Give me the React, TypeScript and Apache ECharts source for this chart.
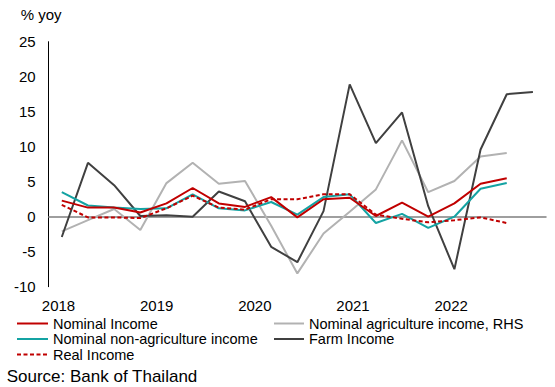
import React, { useEffect, useRef } from "react";
import * as echarts from "echarts";

// Quarterly periods, 2018Q1 – 2022Q3
const quarters = [
  "2018Q1", "2018Q2", "2018Q3", "2018Q4",
  "2019Q1", "2019Q2", "2019Q3", "2019Q4",
  "2020Q1", "2020Q2", "2020Q3", "2020Q4",
  "2021Q1", "2021Q2", "2021Q3", "2021Q4",
  "2022Q1", "2022Q2", "2022Q3",
];

// Year labels under the plot
const yearTicks = [2018, 2019, 2020, 2021, 2022];

// Growth rates, % yoy
const nominalIncome = [2.3, 1.3, 1.3, 0.6, 1.9, 4.1, 1.9, 1.4, 2.8, -0.1, 2.5, 2.7, 0.1, 2.0, 0.0, 1.9, 4.7, 5.5];
const nominalAgriIncome = [-2.1, -0.5, 1.1, -1.9, 4.8, 7.7, 4.7, 5.1, -1.3, -8.1, -2.4, 0.7, 3.9, 10.9, 3.5, 5.1, 8.6, 9.1];
const nominalNonAgriIncome = [3.5, 1.6, 1.3, 1.1, 1.2, 3.2, 1.2, 0.9, 2.1, 0.3, 2.8, 3.2, -0.9, 0.4, -1.6, 0.0, 4.0, 4.8];
const farmIncome = [-2.9, 7.7, 4.5, 0.1, 0.2, 0.0, 3.6, 2.2, -4.3, -6.5, 0.8, 18.9, 10.5, 14.9, 1.5, -7.5, 9.6, 17.5, 17.8];
const realIncome = [1.7, -0.1, -0.1, -0.2, 1.2, 3.0, 1.3, 1.0, 2.5, 2.5, 3.2, 3.2, 0.3, -0.3, -0.8, -0.5, -0.1, -0.9];

const FONT = "'Liberation Sans', Arial, sans-serif";

export default function App() {
  const ref = useRef<HTMLDivElement>(null);

  useEffect(() => {
    if (!ref.current) return;
    const chart = echarts.init(ref.current, undefined, { renderer: "svg" });

    const lineSeries = (name: string, data: number[], color: string, dashed = false) => ({
      name,
      type: "line",
      data,
      xAxisIndex: 0,
      yAxisIndex: 0,
      symbol: "none",
      showSymbol: false,
      lineStyle: { color, width: 2, type: dashed ? ([4, 2.5] as any) : "solid" },
      itemStyle: { color },
      z: 3,
    });

    const legendBase = {
      orient: "vertical",
      top: 316,
      itemHeight: 15,
      itemGap: 0.5,
      padding: 0,
      itemStyle: { opacity: 0 },
      textStyle: { fontSize: 14.5, color: "#000", fontFamily: FONT },
    };

    chart.setOption({
      animation: false,
      textStyle: { fontFamily: FONT },
      grid: { left: 48.7, right: 9, top: 41.7, bottom: 100.3, containLabel: false },
      xAxis: [
        {
          type: "category",
          data: quarters,
          boundaryGap: true,
          axisLine: { show: true, onZero: true, lineStyle: { color: "#7f7f7f", width: 1.5 } },
          axisTick: { show: false },
          axisLabel: { show: false },
          splitLine: { show: false },
        },
        {
          type: "value",
          position: "bottom",
          min: 2017.9,
          max: 2022.966,
          interval: 0.1,
          axisLine: { show: false, onZero: false },
          axisTick: { show: false },
          splitLine: { show: false },
          axisLabel: {
            show: true,
            margin: 11,
            fontSize: 15,
            color: "#000",
            fontFamily: FONT,
            formatter: (v: number) => {
              const r = Math.round(v);
              return Math.abs(v - r) < 1e-6 && yearTicks.includes(r) ? String(r) : "";
            },
          },
        },
      ],
      yAxis: {
        type: "value",
        min: -10,
        max: 25,
        interval: 5,
        axisLine: { show: true, lineStyle: { color: "#000", width: 1 } },
        axisTick: { show: false },
        splitLine: { show: false },
        axisLabel: { margin: 13, fontSize: 15, color: "#000", fontFamily: FONT },
      },
      legend: [
        {
          ...legendBase,
          left: 16,
          itemWidth: 31,
          data: ["Nominal Income", "Nominal non-agriculture income", "Real Income"],
        },
        {
          ...legendBase,
          left: 273,
          itemWidth: 30,
          data: ["Nominal agriculture income, RHS", "Farm Income"],
        },
      ],
      graphic: [
        {
          type: "text",
          left: 20.7,
          top: 7,
          style: { text: "% yoy", fontSize: 15, fill: "#000", fontFamily: FONT },
        },
        {
          type: "text",
          left: 6.7,
          top: 368,
          style: { text: "Source: Bank of Thailand", fontSize: 17, fill: "#000", fontFamily: FONT },
        },
      ],
      series: [
        lineSeries("Nominal agriculture income, RHS", nominalAgriIncome, "#b2b2b2"),
        lineSeries("Farm Income", farmIncome, "#404040"),
        lineSeries("Nominal non-agriculture income", nominalNonAgriIncome, "#14a3a3"),
        lineSeries("Nominal Income", nominalIncome, "#c00000"),
        lineSeries("Real Income", realIncome, "#c00000", true),
      ],
    });

    return () => chart.dispose();
  }, []);

  return <div ref={ref} style={{ width: 555, height: 387, position: "absolute", left: 0, top: 0 }} />;
}
